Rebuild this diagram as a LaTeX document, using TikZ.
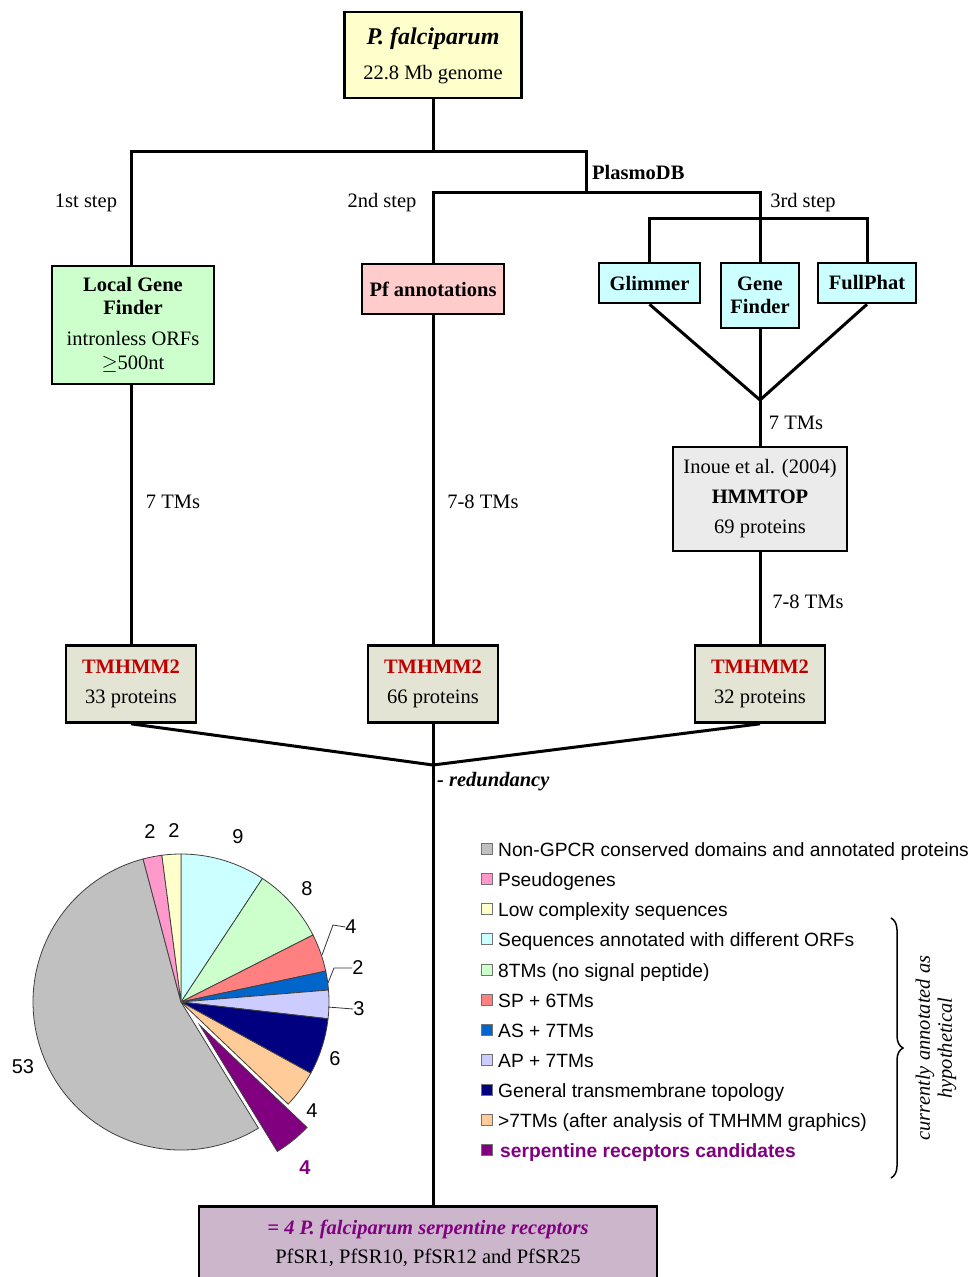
\documentclass[tikz,border=0pt]{standalone}
\usepackage{fontspec}
\setmainfont{Liberation Serif}
\setsansfont{Liberation Sans}
\usetikzlibrary{decorations.pathreplacing}
\definecolor{cTop}{HTML}{FFFFCC}
\definecolor{cLGF}{HTML}{CCFFCC}
\definecolor{cPf}{HTML}{FFCCCC}
\definecolor{cCy}{HTML}{CCFFFF}
\definecolor{cIn}{HTML}{EBEBEB}
\definecolor{cTM}{HTML}{E4E4D4}
\definecolor{cFin}{HTML}{CCB6CC}
\definecolor{cRed}{HTML}{C00000}
\definecolor{cPur}{HTML}{800080}
\definecolor{pGray}{HTML}{C0C0C0}
\definecolor{pPink}{HTML}{FF99CC}
\definecolor{pYel}{HTML}{FFFFCC}
\definecolor{pCyan}{HTML}{CCFFFF}
\definecolor{pGreen}{HTML}{CCFFCC}
\definecolor{pSal}{HTML}{FF8080}
\definecolor{pBlue}{HTML}{0066CC}
\definecolor{pLav}{HTML}{CCCCFF}
\definecolor{pNavy}{HTML}{000080}
\definecolor{pPeach}{HTML}{FFCC99}
\definecolor{pPur}{HTML}{800080}
\tikzset{
  box/.style={draw, line width=2.6pt, align=center, inner sep=2pt,
    font=\fontsize{20.5}{30}\selectfont},
  conn/.style={line width=3pt, line join=miter},
  lbl/.style={inner sep=0pt, font=\fontsize{20.5}{24}\selectfont},
  pieedge/.style={draw=black!75, line width=0.8pt},
  pielbl/.style={inner sep=0pt, font=\sffamily\fontsize{20}{22}\selectfont},
  lsq/.style={draw=black!55, line width=1pt, minimum size=11pt, inner sep=0pt},
  ltxt/.style={anchor=base west, inner sep=0pt, font=\sffamily\fontsize{19.2}{22}\selectfont},
  leader/.style={line width=0.8pt, draw=black!80}
}
\begin{document}
\begin{tikzpicture}[x=1pt,y=-1pt]
\useasboundingbox[fill=white] (0,0) rectangle (970,1277);
\clip (0,0) rectangle (970,1277);

% ---------- boxes ----------
\node[box, fill=cTop, minimum width=177pt, minimum height=86pt, text depth=2pt] (top) at (433,55)
  {{\fontsize{24}{28}\selectfont\bfseries\itshape P. falciparum}\\[5pt]22.8 Mb genome};
\node[box, fill=cLGF, minimum width=162pt, minimum height=118pt, font=\fontsize{20.5}{23}\selectfont] (lgf) at (133,325)
  {\textbf{Local Gene}\\\textbf{Finder}\\[8pt]intronless ORFs\\[1pt]$\geq$500nt};
\node[box, fill=cPf, minimum width=142pt, minimum height=50pt] (pf) at (433,289)
  {\textbf{Pf annotations}};
\node[box, fill=cCy, minimum width=101pt, minimum height=40pt] (glim) at (649.5,283)
  {\textbf{Glimmer}};
\node[box, fill=cCy, minimum width=78pt, minimum height=65pt, font=\fontsize{20.5}{23}\selectfont] (gf) at (760,295.5)
  {\textbf{Gene}\\\textbf{Finder}};
\node[box, fill=cCy, minimum width=98pt, minimum height=40pt] (full) at (867,283)
  {\textbf{FullPhat}};
\node[box, fill=cIn, minimum width=174pt, minimum height=104pt] (inoue) at (760,499)
  {Inoue et al. (2004)\\\textbf{HMMTOP}\\69 proteins};
\node[box, fill=cTM, minimum width=130pt, minimum height=77pt] (tm1) at (131,684)
  {\textcolor{cRed}{\textbf{TMHMM2}}\\33 proteins};
\node[box, fill=cTM, minimum width=130pt, minimum height=77pt] (tm2) at (433,684)
  {\textcolor{cRed}{\textbf{TMHMM2}}\\66 proteins};
\node[box, fill=cTM, minimum width=130pt, minimum height=77pt] (tm3) at (760,684)
  {\textcolor{cRed}{\textbf{TMHMM2}}\\32 proteins};
\node[box, fill=cFin, minimum width=458pt, anchor=north, inner ysep=14pt, font=\fontsize{20.5}{29}\selectfont] (final) at (428,1205)
  {\textcolor{cPur}{\textbf{\itshape = 4 P. falciparum serpentine receptors}}\\PfSR1, PfSR10, PfSR12 and PfSR25\\[40pt]\mbox{}};

% ---------- junctions ----------
\coordinate (j1) at (433,151);
\coordinate (pd) at (586,151);
\coordinate (pd2) at (586,192);
\coordinate (j3) at (760,218);
\coordinate (j4) at (760,400);
\coordinate (j5) at (433,765);

% ---------- connectors ----------
\draw[conn] (top.south) -- (j1);
\draw[conn] (lgf.north -| tm1.north) |- (pd) -- (pd2);
\draw[conn] (pf.north) |- (gf.north |- pd2) -- (gf.north);
\draw[conn] (glim.north) |- (full.north |- j3) -- (full.north);
\draw[conn] (glim.south) -- (j4);
\draw[conn] (gf.south) -- (j4);
\draw[conn] (full.south) -- (j4);
\draw[conn] (j4) -- (inoue.north);
\draw[conn] (inoue.south) -- (tm3.north);
\draw[conn] (lgf.south -| tm1.north) -- (tm1.north);
\draw[conn] (pf.south) -- (tm2.north);
\draw[conn] (tm1.south) -- (j5);
\draw[conn] (tm3.south) -- (j5);
\draw[conn] (tm2.south) -- (j5);
\draw[conn] (j5) -- (final.north -| j5);

% ---------- connector labels ----------
\node[lbl, anchor=west] (lplasmo) at (592,172) {\textbf{PlasmoDB}};
\node[lbl] (l1st) at (86,203) {1st step};
\node[lbl] (l2nd) at (382,203) {2nd step};
\node[lbl] (l3rd) at (803,203) {3rd step};
\node[lbl] (ltm1) at (173,502) {7 TMs};
\node[lbl] (ltm2) at (483,502) {7-8 TMs};
\node[lbl] (ltm3) at (796,423) {7 TMs};
\node[lbl] (ltm4) at (808,602) {7-8 TMs};
\node[lbl, anchor=west] (lred) at (437,782) {\textbf{\itshape - redundancy}};

% ---------- pie ----------
\begin{scope}[shift={(181,1002)}, yscale=-1]
  \foreach \a/\b/\c in {90/56.60/pCyan, 56.60/26.91/pGreen, 26.91/12.07/pSal,
      12.07/4.64/pBlue, 4.64/-6.49/pLav, -6.49/-28.76/pNavy, -28.76/-43.61/pPeach,
      -58.45/-255.15/pGray, 104.85/97.42/pPink, 97.42/90/pYel}
    \filldraw[pieedge, fill=\c] (0,0) -- (\a:148) arc[start angle=\a, end angle=\b, radius=148] -- cycle;
  \begin{scope}[shift={(-51.03:30)}]
    \filldraw[pieedge, fill=pPur] (0,0) -- (-43.61:148) arc[start angle=-43.61, end angle=-58.45, radius=148] -- cycle;
  \end{scope}
\end{scope}

% pie labels
\node[pielbl] (v1) at (150,832) {2};
\node[pielbl] (v2) at (174,831) {2};
\node[pielbl] (v3) at (238,837) {9};
\node[pielbl] (v4) at (307,889) {8};
\node[pielbl] (v5) at (351,927) {4};
\node[pielbl] (v6) at (358,968) {2};
\node[pielbl] (v7) at (359,1009) {3};
\node[pielbl] (v8) at (335,1059) {6};
\node[pielbl] (v9) at (312,1111) {4};
\node[pielbl, text=cPur, font=\sffamily\bfseries\fontsize{20}{22}\selectfont] (v10) at (305,1168) {4};
\node[pielbl] (v11) at (23,1067) {53};
\coordinate (ld1) at (322,955);
\coordinate (ld2) at (328,983);
\coordinate (ld3) at (328,1007);
\draw[leader] (ld1) -- (333,925) -- (v5.west);
\draw[leader] (ld2) -- (334,968) -- (v6.west);
\draw[leader] (ld3) -- (v7.west);

% ---------- legend ----------
\foreach \yy/\cc/\lab [count=\i] in {
  849/pGray/Non-GPCR conserved domains and annotated proteins,
  879/pPink/Pseudogenes,
  909/pYel/Low complexity sequences,
  939/pCyan/Sequences annotated with different ORFs,
  970/pGreen/8TMs (no signal peptide),
  1000/pSal/SP + 6TMs,
  1030/pBlue/AS + 7TMs,
  1060/pLav/AP + 7TMs,
  1090/pNavy/General transmembrane topology,
  1120/pPeach/>7TMs (after analysis of TMHMM graphics)}
{
  \node[lsq, fill=\cc] (sq\i) at (487,\yy) {};
  \node[ltxt] (lt\i) at (498,\yy+7) {\lab};
}
\node[lsq, fill=pPur] (sq11) at (487,1150) {};
\node[ltxt, text=cPur, font=\sffamily\bfseries\fontsize{19.2}{22}\selectfont] (lt11) at (500,1157) {serpentine receptors candidates};

% brace and rotated note
\draw[line width=1.5pt, decorate, decoration={brace, amplitude=12pt}] (891,918) -- (891,1178);
\node[rotate=90, align=center, inner sep=0pt, font=\itshape\fontsize{20.5}{22}\selectfont] (hyp) at (936,1048)
  {currently annotated as\\hypothetical};
\end{tikzpicture}
\end{document}
